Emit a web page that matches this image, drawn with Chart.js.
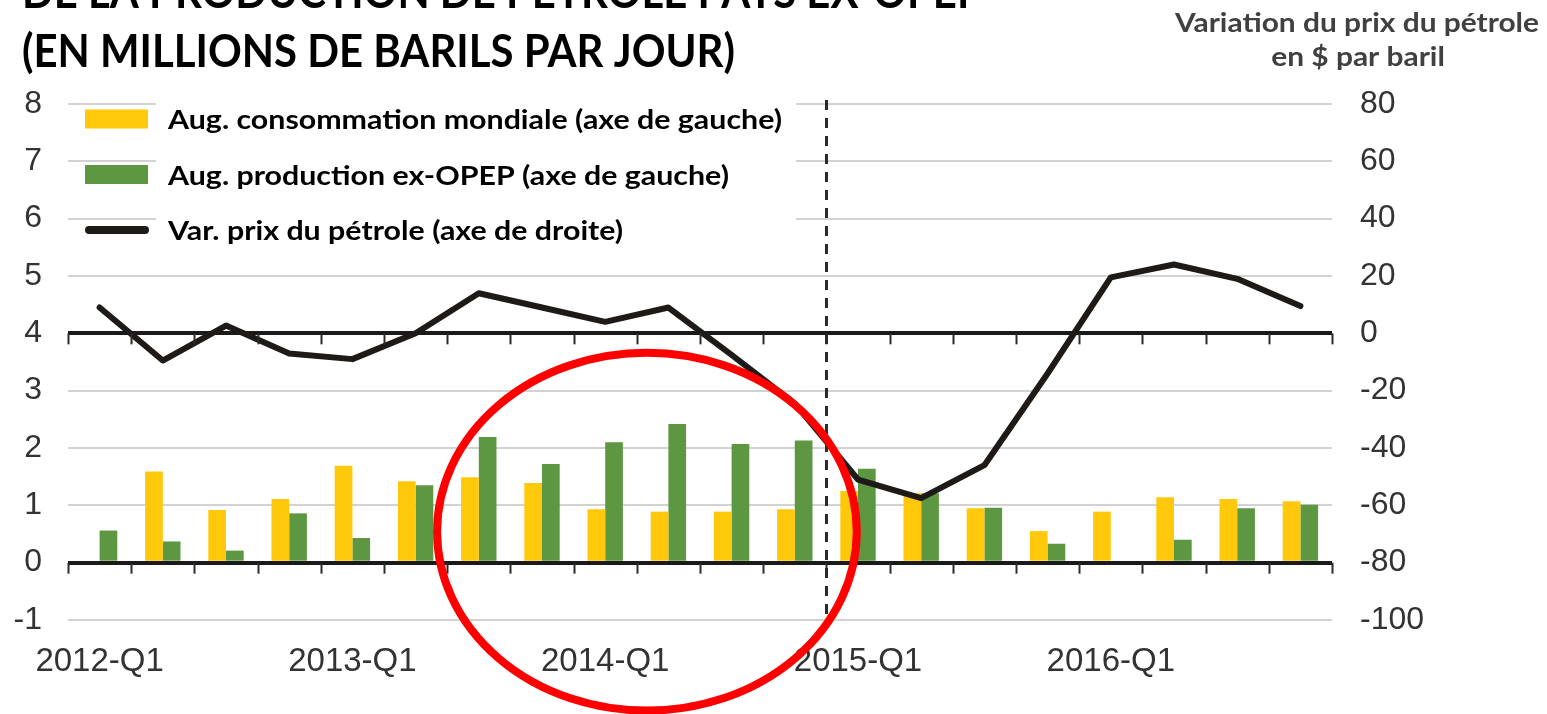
<!DOCTYPE html>
<html>
<head>
<meta charset="utf-8">
<script src="https://cdn.jsdelivr.net/npm/chart.js@4/dist/chart.umd.min.js"></script>
<style>
    html, body { margin: 0; padding: 0; background: #fff; }
    #box { position: relative; width: 1547px; height: 714px; }
</style>
</head>
<body>
<div id="box"><canvas id="chart-oil"></canvas></div>
<script>
// Données
const QUARTERS = [
    '2012-Q1', '2012-Q2', '2012-Q3', '2012-Q4',
    '2013-Q1', '2013-Q2', '2013-Q3', '2013-Q4',
    '2014-Q1', '2014-Q2', '2014-Q3', '2014-Q4',
    '2015-Q1', '2015-Q2', '2015-Q3', '2015-Q4',
    '2016-Q1', '2016-Q2', '2016-Q3', '2016-Q4',
];
// Aug. consommation mondiale (mb/j, axe de gauche)
const CONSO = [0, 1.59, 0.92, 1.11, 1.69, 1.42, 1.49, 1.39, 0.93, 0.89,
               0.89, 0.93, 1.25, 1.21, 0.95, 0.55, 0.89, 1.14, 1.11, 1.07];
// Aug. production ex-OPEP (mb/j, axe de gauche)
const PROD = [0.56, 0.37, 0.21, 0.86, 0.43, 1.35, 2.19, 1.72, 2.10, 2.42,
              2.07, 2.13, 1.64, 1.21, 0.96, 0.33, 0, 0.40, 0.95, 1.01];
// Var. prix du pétrole ($/baril, axe de droite)
const PRIX = [9, -9.5, 2.7, -7, -9, 0, 14, 9, 4, 9,
              -7.5, -24.5, -51, -57.5, -46, -14, 19.5, 24, 19, 9.5];

const LEFT_MIN = -1, LEFT_MAX = 8, LEFT_STEP = 1;
const RIGHT_MIN = -100, RIGHT_MAX = 80, RIGHT_STEP = 20;
const BOLD_LINES = [0, 4];          // lignes noires (0 à gauche, 0 à droite)
const DASH_AT = 11.5;               // séparation 2014-Q4 / 2015-Q1

const COLORS = {
    yellow: '#ffc80b',
    green: '#5e9742',
    line: '#1e1a18',
    grid: '#d2d2d2',
    text: '#333333',
    red: '#ff0000',
};

const LEGEND = [
    { label: 'Aug. consommation mondiale (axe de gauche)', color: COLORS.yellow, kind: 'box' },
    { label: 'Aug. production ex-OPEP (axe de gauche)', color: COLORS.green, kind: 'box' },
    { label: 'Var. prix du pétrole (axe de droite)', color: COLORS.line, kind: 'line' },
];

Chart.defaults.font.family = "'Liberation Sans', Arial, sans-serif";
Chart.defaults.color = COLORS.text;

// texte compressé horizontalement pour imiter Calibri
function fitText(ctx, text, x, y, sx) {
    ctx.save();
    ctx.translate(x, y);
    ctx.scale(sx, 1);
    ctx.fillText(text, 0, 0);
    ctx.restore();
}

const decor = {
    id: 'decor',
    beforeDatasetsDraw(chart) {
        const { ctx, chartArea: a, scales: { x } } = chart;
        const px = Math.round(x.getPixelForValue(DASH_AT)) + 0.5;
        ctx.save();
        ctx.setLineDash([10, 8]);
        ctx.lineWidth = 3;
        ctx.strokeStyle = '#2b2b2b';
        ctx.beginPath();
        ctx.moveTo(px, a.top - 4);
        ctx.lineTo(px, a.bottom + 6);
        ctx.stroke();
        ctx.restore();
    },
    afterDatasetsDraw(chart) {
        const { ctx, scales: { x, y } } = chart;
        ctx.save();

        // graduations sous les deux lignes noires
        ctx.strokeStyle = '#2b2b2b';
        ctx.lineWidth = 2;
        BOLD_LINES.forEach(v => {
            const py = y.getPixelForValue(v);
            for (let i = 0; i <= QUARTERS.length; i++) {
                const px = Math.round(x.getPixelForValue(i - 0.5)) + 0.5;
                ctx.beginPath();
                ctx.moveTo(px, py);
                ctx.lineTo(px, py + 11);
                ctx.stroke();
            }
        });

        // légende
        ctx.fillStyle = '#fff';
        ctx.fillRect(156, 96, 640, 154);
        ctx.font = "bold 27px Lato, 'Open Sans', sans-serif";
        ctx.textBaseline = 'alphabetic';
        ctx.textAlign = 'left';
        const sx = 614 / ctx.measureText(LEGEND[0].label).width;
        LEGEND.forEach((item, i) => {
            const cy = 119 + i * 55.5;
            if (item.kind === 'box') {
                ctx.fillStyle = item.color;
                ctx.fillRect(85, cy - 9.5, 63, 19);
            } else {
                ctx.strokeStyle = item.color;
                ctx.lineWidth = 8;
                ctx.lineCap = 'round';
                ctx.beginPath();
                ctx.moveTo(89, cy);
                ctx.lineTo(145, cy);
                ctx.stroke();
            }
            ctx.fillStyle = '#000';
            fitText(ctx, item.label, 168, cy + 10, sx);
        });

        // ellipse rouge
        const cx = x.getPixelForValue(8.66);
        const cyE = y.getPixelForValue(0.54);
        const rx = x.getPixelForValue(8.66 + 3.32) - cx;
        const ry = cyE - y.getPixelForValue(0.54 + 3.12);
        ctx.strokeStyle = COLORS.red;
        ctx.lineWidth = 8;
        ctx.beginPath();
        ctx.ellipse(cx, cyE, rx, ry, 0, 0, Math.PI * 2);
        ctx.stroke();
        ctx.restore();
    },
    afterDraw(chart) {
        const { ctx } = chart;
        ctx.save();
        ctx.textBaseline = 'alphabetic';
        ctx.textAlign = 'left';

        // titre
        ctx.fillStyle = '#000';
        ctx.font = "bold 46px Lato, 'Open Sans', sans-serif";
        const t2 = '(EN MILLIONS DE BARILS PAR JOUR)';
        const sx = 713 / ctx.measureText(t2).width;
        fitText(ctx, 'DE LA PRODUCTION DE PÉTROLE PAYS EX-OPEP', 22, 8, sx);
        fitText(ctx, t2, 22, 67, sx);

        // titre de l'axe de droite
        ctx.fillStyle = '#404040';
        ctx.font = "bold 26px Lato, 'Open Sans', sans-serif";
        const r1 = 'Variation du prix du pétrole';
        const r2 = 'en $ par baril';
        const sr = 364 / ctx.measureText(r1).width;
        const w2 = ctx.measureText(r2).width * sr;
        fitText(ctx, r1, 1175, 32, sr);
        fitText(ctx, r2, 1358 - w2 / 2, 66, sr);
        ctx.restore();
    },
};

new Chart(document.getElementById('chart-oil'), {
    type: 'bar',
    data: {
        labels: QUARTERS,
        datasets: [
            {
                type: 'line',
                label: 'Var. prix du pétrole (axe de droite)',
                data: PRIX,
                yAxisID: 'y2',
                borderColor: COLORS.line,
                borderWidth: 6,
                pointRadius: 0,
                tension: 0,
                borderCapStyle: 'round',
                borderJoinStyle: 'round',
                order: 0,
            },
            {
                label: 'Aug. consommation mondiale (axe de gauche)',
                data: CONSO,
                yAxisID: 'y',
                backgroundColor: COLORS.yellow,
                categoryPercentage: 0.56,
                barPercentage: 1,
                order: 1,
            },
            {
                label: 'Aug. production ex-OPEP (axe de gauche)',
                data: PROD,
                yAxisID: 'y',
                backgroundColor: COLORS.green,
                categoryPercentage: 0.56,
                barPercentage: 1,
                order: 1,
            },
        ],
    },
    options: {
        responsive: true,
        maintainAspectRatio: false,
        animation: false,
        layout: { padding: { top: 104, left: 0, right: 0, bottom: 0 } },
        plugins: {
            legend: { display: false },
            tooltip: { enabled: false },
        },
        scales: {
            x: {
                grid: { display: false },
                border: { display: false },
                ticks: {
                    autoSkip: false,
                    maxRotation: 0,
                    padding: 14,
                    font: { size: 33 },
                    callback: (v, i) => (i % 4 === 0 ? QUARTERS[i] : ''),
                },
                afterFit: s => { s.height = 94; },
            },
            y: {
                position: 'left',
                min: LEFT_MIN,
                max: LEFT_MAX,
                border: { display: false },
                grid: {
                    drawTicks: false,
                    color: c => (BOLD_LINES.includes(c.tick.value) ? '#1a1a1a' : COLORS.grid),
                    lineWidth: c => (BOLD_LINES.includes(c.tick.value) ? 4 : 2),
                },
                ticks: { stepSize: LEFT_STEP, padding: 26, font: { size: 32 } },
                afterFit: s => { s.width = 68; },
            },
            y2: {
                position: 'right',
                min: RIGHT_MIN,
                max: RIGHT_MAX,
                border: { display: false },
                grid: { display: false, drawTicks: false },
                ticks: { stepSize: RIGHT_STEP, padding: 28, font: { size: 32 } },
                afterFit: s => { s.width = 215; },
            },
        },
    },
    plugins: [decor],
});
</script>
</body>
</html>
